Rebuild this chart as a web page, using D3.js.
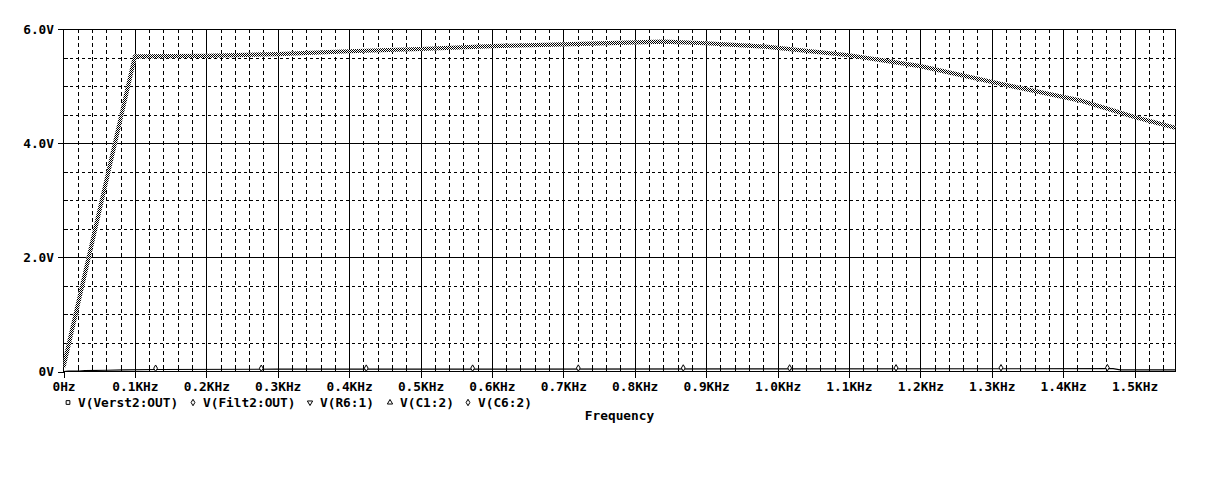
<!DOCTYPE html>
<html><head><meta charset="utf-8">
<script src="https://cdn.jsdelivr.net/npm/d3@7"></script>
<style>
html,body{margin:0;padding:0;background:#fff;}
text{font-family:"DejaVu Sans Mono",monospace;font-weight:bold;font-size:12.8px;fill:#000;}
</style></head>
<body><svg id="c" width="1219" height="480"></svg>
<script>
// Frequency in kHz, voltage in V
const mainFreq = [0, 0.100, 0.200, 0.300, 0.400, 0.500, 0.600, 0.700, 0.840, 0.900, 0.983, 1.100, 1.200, 1.312, 1.423, 1.500, 1.557];
const mainVolt = [0.08, 5.52, 5.53, 5.56, 5.61, 5.65, 5.70, 5.73, 5.78, 5.75, 5.69, 5.54, 5.35, 5.04, 4.75, 4.46, 4.27];
const lowFreq = [0, 0.007, 0.022, 0.030, 0.060, 0.085, 0.130, 0.300, 0.600, 1.000, 1.470, 1.480, 1.557];
const lowVolt = [0, 0.008, 0.008, 0.015, 0.022, 0.030, 0.035, 0.040, 0.042, 0.045, 0.050, 0.030, 0.030];
const markerFreq = [0.129, 0.277, 0.424, 0.573, 0.721, 0.868, 1.017, 1.166, 1.313, 1.462];
const markerVolt = [0.040, 0.040, 0.042, 0.042, 0.043, 0.044, 0.045, 0.047, 0.048, 0.050];
const xTicks = [0, 0.1, 0.2, 0.3, 0.4, 0.5, 0.6, 0.7, 0.8, 0.9, 1.0, 1.1, 1.2, 1.3, 1.4, 1.5];
const xTickLabels = ["0Hz","0.1KHz","0.2KHz","0.3KHz","0.4KHz","0.5KHz","0.6KHz","0.7KHz","0.8KHz","0.9KHz","1.0KHz","1.1KHz","1.2KHz","1.3KHz","1.4KHz","1.5KHz"];
const yTicks = [0, 2, 4, 6];
const yTickLabels = ["0V","2.0V","4.0V","6.0V"];
const legendNames = ["V(Verst2:OUT)","V(Filt2:OUT)","V(R6:1)","V(C1:2)","V(C6:2)"];
const legendSymbols = ["square","diamond","tridown","triup","diamond"];

const svg = d3.select("#c");
const L = 63.5, R = 1175.5, T = 29, B = 371.5;
const x = d3.scaleLinear().domain([0, 1.5574]).range([L, R]);
const y = d3.scaleLinear().domain([0, 6]).range([B, T]);

const defs = svg.append("defs");
const pat = defs.append("pattern").attr("id","chk").attr("width",2).attr("height",2).attr("patternUnits","userSpaceOnUse");
pat.append("rect").attr("width",2).attr("height",2).attr("fill","#fff");
pat.append("rect").attr("x",0).attr("y",0).attr("width",1).attr("height",1).attr("fill","#000");
pat.append("rect").attr("x",1).attr("y",1).attr("width",1).attr("height",1).attr("fill","#000");
defs.append("clipPath").attr("id","clip").append("rect").attr("x",L).attr("y",T-3).attr("width",R-L+3).attr("height",B-T+6);

const g = svg.append("g");
// minor grid
const xMinor = d3.range(0, 1.5574, 0.02).filter(v => Math.abs(v*10 - Math.round(v*10)) > 1e-6);
const yMinor = d3.range(0, 6.001, 0.5).filter(v => Math.abs(v/2 - Math.round(v/2)) > 1e-6);
g.selectAll(".vmin").data(xMinor).join("line")
  .attr("x1", d => Math.round(x(d))+0.5).attr("x2", d => Math.round(x(d))+0.5)
  .attr("y1", T).attr("y2", B).attr("stroke","#000").attr("stroke-dasharray","4,3")
  .attr("shape-rendering","crispEdges");
g.selectAll(".hmin").data(yMinor).join("line")
  .attr("x1", L).attr("x2", R)
  .attr("y1", d => Math.round(y(d))+0.5).attr("y2", d => Math.round(y(d))+0.5)
  .attr("stroke","#000").attr("stroke-dasharray","3,3").attr("shape-rendering","crispEdges");
// major grid
g.selectAll(".vmaj").data(xTicks.slice(1)).join("line")
  .attr("x1", d => Math.round(x(d))+0.5).attr("x2", d => Math.round(x(d))+0.5)
  .attr("y1", T).attr("y2", B).attr("stroke","#000").attr("shape-rendering","crispEdges");
g.selectAll(".hmaj").data(yTicks.slice(1,3)).join("line")
  .attr("x1", L).attr("x2", R)
  .attr("y1", d => Math.round(y(d))+0.5).attr("y2", d => Math.round(y(d))+0.5)
  .attr("stroke","#000").attr("shape-rendering","crispEdges");

// frame
g.append("rect").attr("x", L).attr("y", T).attr("width", R-L).attr("height", B-T)
  .attr("fill","none").attr("stroke","#000").attr("shape-rendering","crispEdges");

// minor inner ticks
g.selectAll(".xmt").data(xMinor).join("line")
  .attr("x1", d => Math.round(x(d))+0.5).attr("x2", d => Math.round(x(d))+0.5)
  .attr("y1", B).attr("y2", B-4).attr("stroke","#000").attr("shape-rendering","crispEdges");
g.selectAll(".ymt").data(yMinor).join("line")
  .attr("x1", L).attr("x2", L+4)
  .attr("y1", d => Math.round(y(d))+0.5).attr("y2", d => Math.round(y(d))+0.5)
  .attr("stroke","#000").attr("shape-rendering","crispEdges");

// axes with outer major ticks
const xAxis = d3.axisBottom(x).tickValues(xTicks).tickSize(6).tickFormat((d,i) => xTickLabels[i]);
const xa = svg.append("g").attr("transform", `translate(0,${B})`).call(xAxis);
xa.select(".domain").remove();
xa.selectAll("line").attr("stroke","#000").attr("shape-rendering","crispEdges");
xa.selectAll("text").attr("dy", null).attr("y", 19.5).attr("font-size", null).attr("font-family", null);
const yAxis = d3.axisLeft(y).tickValues(yTicks).tickSize(6).tickFormat((d,i) => yTickLabels[i]);
const ya = svg.append("g").attr("transform", `translate(${L},0)`).call(yAxis);
ya.select(".domain").remove();
ya.selectAll("line").attr("stroke","#000").attr("shape-rendering","crispEdges");
ya.selectAll("text").attr("x", -9.5).attr("dy","0.35em").attr("font-size", null).attr("font-family", null);
svg.selectAll(".tick text").attr("fill","#000");

// traces
const plot = svg.append("g").attr("clip-path","url(#clip)");
const line = d3.line().x(d => x(d[0])).y(d => y(d[1]));
plot.append("path").datum(lowFreq.map((f,i) => [f, lowVolt[i]]))
  .attr("d", line).attr("fill","none").attr("stroke","#000").attr("stroke-width",1.2);
plot.append("path").datum(mainFreq.map((f,i) => [f, mainVolt[i]]))
  .attr("d", line).attr("fill","none").attr("stroke","url(#chk)").attr("stroke-width",4.2)
  .attr("stroke-linejoin","round");

const sym = {
  square: d3.symbol().type(d3.symbolSquare).size(14),
  diamond: d3.symbol().type(d3.symbolDiamond).size(12),
  tridown: d3.symbol().type(d3.symbolTriangle).size(12),
  triup: d3.symbol().type(d3.symbolTriangle).size(12)
};
plot.selectAll(".mk").data(markerFreq).join("path")
  .attr("transform", (d,i) => `translate(${x(d)},${y(markerVolt[i])-1})`)
  .attr("d", sym.diamond()).attr("fill","#fff").attr("stroke","#000").attr("stroke-width",1);

// legend
const legX = [68, 193, 310, 390, 468];
const lg = svg.append("g");
legendNames.forEach((n,i) => {
  const s = legendSymbols[i];
  lg.append("path").attr("transform", `translate(${legX[i]},${402.5})` + (s==="tridown" ? " rotate(180)" : ""))
    .attr("d", sym[s]()).attr("fill","#fff").attr("stroke","#000").attr("stroke-width",1);
  lg.append("text").attr("x", legX[i]+10).attr("y", 407).text(n);
});
svg.append("text").attr("x", 619.5).attr("y", 420).attr("text-anchor","middle").text("Frequency");
</script>
</body></html>
